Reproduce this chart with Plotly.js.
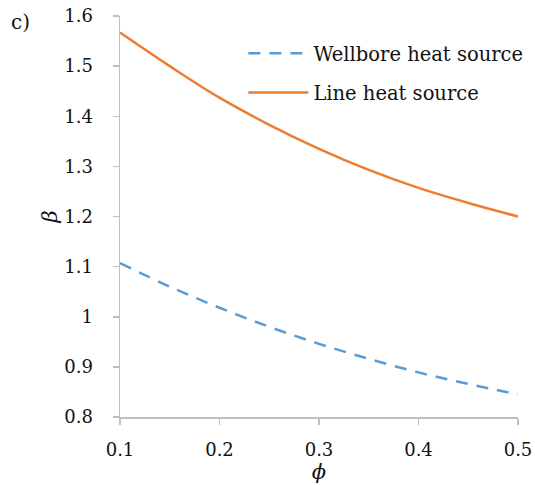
<!DOCTYPE html>
<html><head><meta charset="utf-8">
<script src="https://cdn.plot.ly/plotly-3.0.1.min.js"></script>
<style>html,body{margin:0;padding:0;background:#fff}#chart{width:535px;height:485px}</style>
</head><body><div id="chart"></div>
<script>
const phi = [0.1, 0.15, 0.2, 0.25, 0.3, 0.35, 0.4, 0.45, 0.5];
const betaWellbore = [1.107, 1.060, 1.018, 0.980, 0.946, 0.916, 0.889, 0.866, 0.845];
const betaLine = [1.567, 1.500, 1.437, 1.383, 1.335, 1.293, 1.257, 1.227, 1.200];
const xTicks = [0.1, 0.2, 0.3, 0.4, 0.5];
const yTicks = [0.8, 0.9, 1, 1.1, 1.2, 1.3, 1.4, 1.5, 1.6];
const yTickText = ['0.8', '0.9', '1', '1.1', '1.2', '1.3', '1.4', '1.5', '1.6'];

const font = 'DejaVu Serif';
const traces = [
  {x: phi, y: betaWellbore, mode: 'lines', name: 'Wellbore heat source', legendgroup: 'a',
   line: {color: '#5B9BD5', width: 2.5, dash: '12px,9px', shape: 'spline'}},
  {x: phi, y: betaLine, mode: 'lines', name: 'Line heat source', legendgroup: 'b',
   line: {color: '#ED7D31', width: 2.5, shape: 'spline'}}
];
const axisCommon = {
  showgrid: false, zeroline: false, showline: true, linecolor: '#bfbfbf', linewidth: 1.5,
  ticks: 'outside', ticklen: 6, tickcolor: '#bfbfbf', tickwidth: 1.5,
  tickfont: {family: font, size: 18, color: '#111'}
};
const layout = {
  width: 535, height: 485,
  font: {family: font, size: 18, color: '#111'},
  margin: {l: 120, r: 17, t: 16, b: 68, autoexpand: false},
  paper_bgcolor: '#fff', plot_bgcolor: '#fff',
  showlegend: true,
  legend: {x: 0.31, y: 0.955, xanchor: 'left', yanchor: 'top', bgcolor: 'rgba(0,0,0,0)',
    font: {family: font, size: 19.5, color: '#111'}, traceorder: 'grouped', tracegroupgap: 11,
    itemwidth: 60},
  xaxis: Object.assign({}, axisCommon, {range: [0.1, 0.5], tickvals: xTicks, ticktext: xTicks.map(String),
    ticklabelstandoff: 10,
    title: {text: '<i>ϕ</i>', font: {family: font, size: 21, color: '#111'}, standoff: 4}}),
  yaxis: Object.assign({}, axisCommon, {range: [0.8, 1.6], tickvals: yTicks, ticktext: yTickText,
    ticklabelstandoff: 16,
    title: {text: '<i>β</i>', font: {family: font, size: 21, color: '#111'}, standoff: 1}}),
  annotations: [{text: 'c)', xref: 'paper', yref: 'paper', x: -0.28, y: 0.985, xanchor: 'left', yanchor: 'middle',
    showarrow: false, font: {family: font, size: 20, color: '#111'}}]
};
Plotly.newPlot('chart', traces, layout, {staticPlot: true, displayModeBar: false});
</script></body></html>
